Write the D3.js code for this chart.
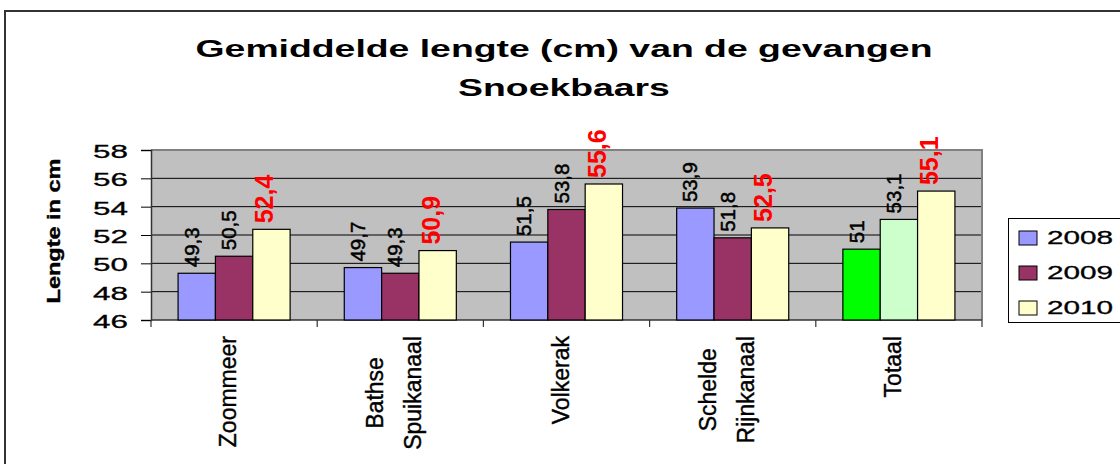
<!DOCTYPE html>
<html>
<head>
<meta charset="utf-8">
<script src="https://cdn.jsdelivr.net/npm/d3@7"></script>
<style>
  body { margin: 0; background: #fff; }
  svg { display: block; }
  text { font-family: "Liberation Sans", Arial, sans-serif; }
</style>
</head>
<body>
<svg id="chart" width="1120" height="464"></svg>
<script>
// ---- data ----
const categories = ["Zoommeer", "Bathse Spuikanaal", "Volkerak", "Schelde Rijnkanaal", "Totaal"];
const categoryLines = [["Zoommeer"], ["Bathse", "Spuikanaal"], ["Volkerak"], ["Schelde", "Rijnkanaal"], ["Totaal"]];
const years = ["2008", "2009", "2010"];
const values2008 = [49.3, 49.7, 51.5, 53.9, 51];
const values2009 = [50.5, 49.3, 53.8, 51.8, 53.1];
const values2010 = [52.4, 50.9, 55.6, 52.5, 55.1];
const yTicks = [46, 48, 50, 52, 54, 56, 58];
const titleLines = ["Gemiddelde lengte (cm) van de gevangen", "Snoekbaars"];
const yTitle = "Lengte in cm";

const seriesColors = ["#9999FF", "#993366", "#FFFFCC"];
const totaalColors = ["#00FF00", "#CCFFCC", "#FFFFCC"];

const series = [values2008, values2009, values2010];

const svg = d3.select("#chart");
svg.append("rect").attr("width", 1120).attr("height", 464).attr("fill", "#fff");

// chart area border
svg.append("path")
  .attr("d", "M5,470 L5,11 L1130,11")
  .attr("fill", "none").attr("stroke", "#333").attr("stroke-width", 2);

const plot = { left: 151, right: 982, top: 150, bottom: 320 };

const y = d3.scaleLinear().domain([46, 58]).range([plot.bottom, plot.top]);
const x0 = d3.scaleBand().domain(categories).range([plot.left, plot.right]).padding(0);
const x1 = d3.scaleBand().domain(years).range([0, x0.bandwidth()]).paddingInner(0).paddingOuter(0.725);

// plot background
svg.append("rect")
  .attr("x", plot.left).attr("y", plot.top)
  .attr("width", plot.right - plot.left).attr("height", plot.bottom - plot.top)
  .attr("fill", "#C0C0C0");

// gridlines
svg.append("g").selectAll("line").data(yTicks.filter(d => d !== 46)).join("line")
  .attr("x1", plot.left).attr("x2", plot.right)
  .attr("y1", d => y(d)).attr("y2", d => y(d))
  .attr("stroke", "#000").attr("stroke-width", 1);

// plot border (top/right)
svg.append("path")
  .attr("d", `M${plot.left},${plot.top} L${plot.right},${plot.top} L${plot.right},${plot.bottom}`)
  .attr("fill", "none").attr("stroke", "#808080").attr("stroke-width", 2);

// y axis
const yAxis = d3.axisLeft(y).tickValues(yTicks).tickSize(10).tickFormat(d => d);
const yg = svg.append("g").attr("transform", `translate(${plot.left},0)`).call(yAxis);
yg.select(".domain").attr("stroke", "#333").attr("stroke-width", 1.5);
yg.selectAll(".tick line").attr("stroke", "#000");
yg.selectAll(".tick text")
  .attr("x", 0).attr("dy", null)
  .attr("text-anchor", "end")
  .attr("font-size", 18.6)
  .attr("fill", "#000")
  .attr("stroke", "#000").attr("stroke-width", 0.3)
  .attr("dominant-baseline", "central")
  .attr("transform", "translate(-23,1) scale(1.69,1)");

// x axis line + ticks at category boundaries
const boundaries = categories.map(c => x0(c)).concat([plot.right]);
svg.append("line")
  .attr("x1", plot.left).attr("x2", plot.right)
  .attr("y1", plot.bottom).attr("y2", plot.bottom)
  .attr("stroke", "#333").attr("stroke-width", 1.5);
svg.append("g").selectAll("line").data(boundaries).join("line")
  .attr("x1", d => d).attr("x2", d => d)
  .attr("y1", plot.bottom).attr("y2", plot.bottom + 7)
  .attr("stroke", "#333").attr("stroke-width", 1.2);

// bars
const barData = [];
categories.forEach((c, ci) => {
  years.forEach((yr, si) => {
    barData.push({ c, ci, yr, si, v: series[si][ci] });
  });
});

svg.append("g").selectAll("rect").data(barData).join("rect")
  .attr("x", d => x0(d.c) + x1(d.yr))
  .attr("y", d => y(d.v))
  .attr("width", x1.bandwidth())
  .attr("height", d => y(46) - y(d.v))
  .attr("fill", d => (d.c === "Totaal" ? totaalColors : seriesColors)[d.si])
  .attr("stroke", "#000").attr("stroke-width", 1.2);

// data labels
svg.append("g").selectAll("text").data(barData).join("text")
  .attr("transform", d => {
    const cx = x0(d.c) + x1(d.yr) + x1.bandwidth() / 2 + 2;
    return `translate(${cx},${y(d.v) - 6}) rotate(-90)`;
  })
  .attr("text-anchor", "start")
  .attr("font-size", d => d.si === 2 ? 25 : 20.5)
  .attr("font-weight", d => d.si === 2 ? "bold" : "normal")
  .attr("fill", d => d.si === 2 ? "#FF0000" : "#000")
  .attr("stroke", d => d.si === 2 ? "none" : "#000")
  .attr("stroke-width", 0.5)
  .text(d => String(d.v).replace(".", ","));

// category labels (rotated, multi-line)
categories.forEach((c, ci) => {
  const lines = categoryLines[ci];
  const cx = x0(c) + x0.bandwidth() / 2 - 6;
  const g = svg.append("g").attr("transform", `translate(${cx},0) rotate(-90)`);
  const texts = lines.map((ln, li) => g.append("text")
    .attr("font-size", 23)
    .attr("fill", "#000")
    .attr("stroke", "#000").attr("stroke-width", 0.4)
    .attr("text-anchor", "middle")
    .text(ln));
  const maxLen = d3.max(texts, t => t.node().getComputedTextLength());
  const topY = 336;
  texts.forEach((t, li) => {
    const v = (li - (lines.length - 1) / 2) * 38 + 8;
    t.attr("x", -(topY + maxLen / 2)).attr("y", v);
  });
});

// y axis title
svg.append("text")
  .attr("transform", "translate(60,231) rotate(-90) scale(1,0.8)")
  .attr("text-anchor", "middle")
  .attr("font-size", 23.5)
  .attr("font-weight", "bold")
  .attr("fill", "#000")
  .attr("stroke", "#000").attr("stroke-width", 0.5)
  .text(yTitle);

// title
titleLines.forEach((t, i) => {
  svg.append("text")
    .attr("transform", `translate(564,${57 + i * 39}) scale(1.59,1)`)
    .attr("text-anchor", "middle")
    .attr("font-size", 23.5)
    .attr("font-weight", "bold")
    .attr("fill", "#000")
    .text(t);
});

// legend
const legend = svg.append("g");
legend.append("rect")
  .attr("x", 1008.5).attr("y", 218.5).attr("width", 140).attr("height", 104)
  .attr("fill", "#fff").attr("stroke", "#000").attr("stroke-width", 1);
years.forEach((yr, i) => {
  const cy = 238 + i * 35;
  legend.append("rect")
    .attr("x", 1019).attr("y", cy - 7).attr("width", 18).attr("height", 14)
    .attr("fill", seriesColors[i]).attr("stroke", "#000").attr("stroke-width", 1);
  legend.append("text")
    .attr("transform", `translate(1047,${cy}) scale(1.6,1)`)
    .attr("dominant-baseline", "central")
    .attr("font-size", 18.6)
    .attr("fill", "#000")
    .attr("stroke", "#000").attr("stroke-width", 0.3)
    .text(yr);
});
</script>
</body>
</html>
